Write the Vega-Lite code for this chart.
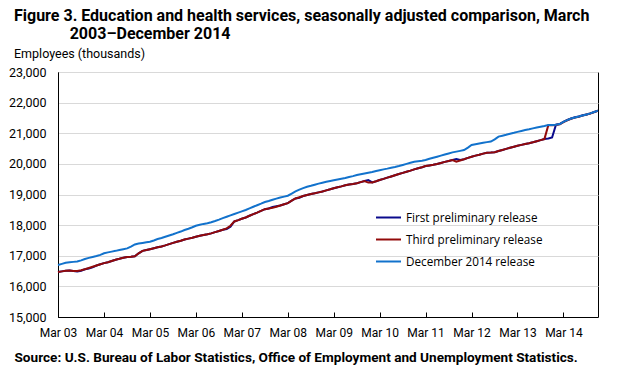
{
  "$schema": "https://vega.github.io/schema/vega-lite/v6.json",
  "width": 540,
  "height": 245,
  "autosize": {"type": "none"},
  "padding": {"left": 58, "top": 72, "right": 25, "bottom": 56},
  "background": "white",
  "title": {
    "text": ["Figure 3. Education and health services, seasonally adjusted comparison, March", "\u200b\u00a0\u00a0\u00a0\u00a0\u00a0\u00a0\u00a0\u00a0\u00a0\u00a0\u00a0\u00a0\u00a0\u00a02003\u2013December 2014"],
    "subtitle": "Employees (thousands)",
    "anchor": "start",
    "frame": "group",
    "dx": -44,
    "offset": 6,
    "font": "Roboto",
    "fontSize": 16,
    "fontWeight": "bold",
    "color": "#000000",
    "lineHeight": 18,
    "subtitleFont": "Roboto",
    "subtitleFontSize": 12.5,
    "subtitleColor": "#000000",
    "subtitlePadding": 6
  },
  "data": {
    "values": [
      {"date":"2003-03-01","first":16470,"third":16470,"dec2014":16700},
      {"date":"2003-04-01","first":16490,"third":16490,"dec2014":16735},
      {"date":"2003-05-01","first":16510,"third":16510,"dec2014":16770},
      {"date":"2003-06-01","first":16520,"third":16520,"dec2014":16790},
      {"date":"2003-07-01","first":16505,"third":16505,"dec2014":16800},
      {"date":"2003-08-01","first":16490,"third":16500,"dec2014":16810},
      {"date":"2003-09-01","first":16510,"third":16525,"dec2014":16850},
      {"date":"2003-10-01","first":16560,"third":16560,"dec2014":16895},
      {"date":"2003-11-01","first":16585,"third":16600,"dec2014":16930},
      {"date":"2003-12-01","first":16620,"third":16640,"dec2014":16960},
      {"date":"2004-01-01","first":16680,"third":16680,"dec2014":16990},
      {"date":"2004-02-01","first":16720,"third":16720,"dec2014":17030},
      {"date":"2004-03-01","first":16760,"third":16760,"dec2014":17080},
      {"date":"2004-04-01","first":16790,"third":16790,"dec2014":17110},
      {"date":"2004-05-01","first":16830,"third":16830,"dec2014":17135},
      {"date":"2004-06-01","first":16870,"third":16870,"dec2014":17160},
      {"date":"2004-07-01","first":16900,"third":16900,"dec2014":17190},
      {"date":"2004-08-01","first":16935,"third":16935,"dec2014":17215},
      {"date":"2004-09-01","first":16960,"third":16960,"dec2014":17240},
      {"date":"2004-10-01","first":16965,"third":16965,"dec2014":17300},
      {"date":"2004-11-01","first":16980,"third":16980,"dec2014":17370},
      {"date":"2004-12-01","first":17080,"third":17080,"dec2014":17400},
      {"date":"2005-01-01","first":17160,"third":17160,"dec2014":17420},
      {"date":"2005-02-01","first":17190,"third":17190,"dec2014":17440},
      {"date":"2005-03-01","first":17215,"third":17215,"dec2014":17460},
      {"date":"2005-04-01","first":17245,"third":17245,"dec2014":17500},
      {"date":"2005-05-01","first":17275,"third":17275,"dec2014":17545},
      {"date":"2005-06-01","first":17305,"third":17305,"dec2014":17580},
      {"date":"2005-07-01","first":17340,"third":17340,"dec2014":17620},
      {"date":"2005-08-01","first":17380,"third":17380,"dec2014":17660},
      {"date":"2005-09-01","first":17420,"third":17420,"dec2014":17700},
      {"date":"2005-10-01","first":17455,"third":17455,"dec2014":17745},
      {"date":"2005-11-01","first":17490,"third":17490,"dec2014":17790},
      {"date":"2005-12-01","first":17530,"third":17530,"dec2014":17840},
      {"date":"2006-01-01","first":17560,"third":17560,"dec2014":17880},
      {"date":"2006-02-01","first":17590,"third":17590,"dec2014":17930},
      {"date":"2006-03-01","first":17620,"third":17620,"dec2014":17980},
      {"date":"2006-04-01","first":17650,"third":17650,"dec2014":18010},
      {"date":"2006-05-01","first":17675,"third":17675,"dec2014":18040},
      {"date":"2006-06-01","first":17700,"third":17700,"dec2014":18060},
      {"date":"2006-07-01","first":17730,"third":17730,"dec2014":18095},
      {"date":"2006-08-01","first":17770,"third":17770,"dec2014":18135},
      {"date":"2006-09-01","first":17810,"third":17810,"dec2014":18180},
      {"date":"2006-10-01","first":17850,"third":17850,"dec2014":18230},
      {"date":"2006-11-01","first":17875,"third":17895,"dec2014":18275},
      {"date":"2006-12-01","first":17950,"third":17980,"dec2014":18320},
      {"date":"2007-01-01","first":18120,"third":18120,"dec2014":18365},
      {"date":"2007-02-01","first":18165,"third":18165,"dec2014":18410},
      {"date":"2007-03-01","first":18210,"third":18210,"dec2014":18450},
      {"date":"2007-04-01","first":18250,"third":18250,"dec2014":18495},
      {"date":"2007-05-01","first":18305,"third":18305,"dec2014":18545},
      {"date":"2007-06-01","first":18360,"third":18360,"dec2014":18600},
      {"date":"2007-07-01","first":18410,"third":18410,"dec2014":18650},
      {"date":"2007-08-01","first":18465,"third":18465,"dec2014":18700},
      {"date":"2007-09-01","first":18520,"third":18520,"dec2014":18755},
      {"date":"2007-10-01","first":18545,"third":18545,"dec2014":18790},
      {"date":"2007-11-01","first":18590,"third":18570,"dec2014":18830},
      {"date":"2007-12-01","first":18615,"third":18600,"dec2014":18865},
      {"date":"2008-01-01","first":18640,"third":18640,"dec2014":18900},
      {"date":"2008-02-01","first":18680,"third":18680,"dec2014":18930},
      {"date":"2008-03-01","first":18720,"third":18720,"dec2014":18960},
      {"date":"2008-04-01","first":18800,"third":18800,"dec2014":19030},
      {"date":"2008-05-01","first":18870,"third":18870,"dec2014":19100},
      {"date":"2008-06-01","first":18895,"third":18910,"dec2014":19160},
      {"date":"2008-07-01","first":18950,"third":18950,"dec2014":19210},
      {"date":"2008-08-01","first":18985,"third":18985,"dec2014":19255},
      {"date":"2008-09-01","first":19015,"third":19015,"dec2014":19285},
      {"date":"2008-10-01","first":19040,"third":19040,"dec2014":19320},
      {"date":"2008-11-01","first":19070,"third":19070,"dec2014":19355},
      {"date":"2008-12-01","first":19100,"third":19100,"dec2014":19385},
      {"date":"2009-01-01","first":19135,"third":19135,"dec2014":19415},
      {"date":"2009-02-01","first":19170,"third":19170,"dec2014":19440},
      {"date":"2009-03-01","first":19205,"third":19205,"dec2014":19465},
      {"date":"2009-04-01","first":19235,"third":19235,"dec2014":19490},
      {"date":"2009-05-01","first":19265,"third":19265,"dec2014":19515},
      {"date":"2009-06-01","first":19300,"third":19300,"dec2014":19540},
      {"date":"2009-07-01","first":19325,"third":19325,"dec2014":19570},
      {"date":"2009-08-01","first":19345,"third":19345,"dec2014":19600},
      {"date":"2009-09-01","first":19370,"third":19370,"dec2014":19635},
      {"date":"2009-10-01","first":19405,"third":19405,"dec2014":19660},
      {"date":"2009-11-01","first":19440,"third":19440,"dec2014":19685},
      {"date":"2009-12-01","first":19470,"third":19390,"dec2014":19710},
      {"date":"2010-01-01","first":19395,"third":19395,"dec2014":19735},
      {"date":"2010-02-01","first":19435,"third":19435,"dec2014":19765},
      {"date":"2010-03-01","first":19475,"third":19475,"dec2014":19790},
      {"date":"2010-04-01","first":19510,"third":19510,"dec2014":19820},
      {"date":"2010-05-01","first":19550,"third":19550,"dec2014":19845},
      {"date":"2010-06-01","first":19590,"third":19590,"dec2014":19875},
      {"date":"2010-07-01","first":19630,"third":19630,"dec2014":19900},
      {"date":"2010-08-01","first":19670,"third":19670,"dec2014":19930},
      {"date":"2010-09-01","first":19705,"third":19705,"dec2014":19965},
      {"date":"2010-10-01","first":19745,"third":19745,"dec2014":20000},
      {"date":"2010-11-01","first":19780,"third":19780,"dec2014":20035},
      {"date":"2010-12-01","first":19820,"third":19820,"dec2014":20070},
      {"date":"2011-01-01","first":19855,"third":19855,"dec2014":20085},
      {"date":"2011-02-01","first":19890,"third":19890,"dec2014":20100},
      {"date":"2011-03-01","first":19930,"third":19930,"dec2014":20125},
      {"date":"2011-04-01","first":19950,"third":19950,"dec2014":20165},
      {"date":"2011-05-01","first":19970,"third":19970,"dec2014":20200},
      {"date":"2011-06-01","first":19995,"third":19995,"dec2014":20235},
      {"date":"2011-07-01","first":20030,"third":20030,"dec2014":20270},
      {"date":"2011-08-01","first":20065,"third":20065,"dec2014":20305},
      {"date":"2011-09-01","first":20095,"third":20095,"dec2014":20340},
      {"date":"2011-10-01","first":20125,"third":20125,"dec2014":20375},
      {"date":"2011-11-01","first":20160,"third":20070,"dec2014":20400},
      {"date":"2011-12-01","first":20130,"third":20110,"dec2014":20425},
      {"date":"2012-01-01","first":20150,"third":20150,"dec2014":20450},
      {"date":"2012-02-01","first":20195,"third":20195,"dec2014":20530},
      {"date":"2012-03-01","first":20235,"third":20235,"dec2014":20615},
      {"date":"2012-04-01","first":20270,"third":20270,"dec2014":20640},
      {"date":"2012-05-01","first":20300,"third":20300,"dec2014":20665},
      {"date":"2012-06-01","first":20335,"third":20335,"dec2014":20690},
      {"date":"2012-07-01","first":20365,"third":20365,"dec2014":20710},
      {"date":"2012-08-01","first":20370,"third":20370,"dec2014":20730},
      {"date":"2012-09-01","first":20380,"third":20380,"dec2014":20800},
      {"date":"2012-10-01","first":20420,"third":20420,"dec2014":20890},
      {"date":"2012-11-01","first":20455,"third":20455,"dec2014":20920},
      {"date":"2012-12-01","first":20490,"third":20490,"dec2014":20950},
      {"date":"2013-01-01","first":20525,"third":20525,"dec2014":20985},
      {"date":"2013-02-01","first":20560,"third":20560,"dec2014":21015},
      {"date":"2013-03-01","first":20590,"third":20590,"dec2014":21045},
      {"date":"2013-04-01","first":20620,"third":20620,"dec2014":21075},
      {"date":"2013-05-01","first":20650,"third":20650,"dec2014":21105},
      {"date":"2013-06-01","first":20675,"third":20675,"dec2014":21130},
      {"date":"2013-07-01","first":20705,"third":20705,"dec2014":21160},
      {"date":"2013-08-01","first":20740,"third":20740,"dec2014":21190},
      {"date":"2013-09-01","first":20775,"third":20775,"dec2014":21215},
      {"date":"2013-10-01","first":20810,"third":20810,"dec2014":21240},
      {"date":"2013-11-01","first":20830,"third":21260,"dec2014":21270},
      {"date":"2013-12-01","first":20860,"third":21265,"dec2014":21270},
      {"date":"2014-01-01","first":21280,"third":21270,"dec2014":21275},
      {"date":"2014-02-01","first":21305,"third":21295,"dec2014":21300},
      {"date":"2014-03-01","first":21370,"third":21365,"dec2014":21370},
      {"date":"2014-04-01","first":21435,"third":21425,"dec2014":21430},
      {"date":"2014-05-01","first":21480,"third":21475,"dec2014":21480},
      {"date":"2014-06-01","first":21520,"third":21510,"dec2014":21515},
      {"date":"2014-07-01","first":21545,"third":21540,"dec2014":21545},
      {"date":"2014-08-01","first":21585,"third":21575,"dec2014":21580},
      {"date":"2014-09-01","first":21615,"third":21610,"dec2014":21615},
      {"date":"2014-10-01","first":21650,"third":21645,"dec2014":21650},
      {"date":"2014-11-01","first":21695,"third":21690,"dec2014":21695},
      {"date":"2014-12-01","first":21740,"third":21735,"dec2014":21740}
    ]
  },
  "transform": [
    {"fold": ["first", "third", "dec2014"], "as": ["series", "value"]}
  ],
  "mark": {"type": "line", "strokeWidth": 2, "interpolate": "linear"},
  "encoding": {
    "x": {
      "field": "date",
      "type": "temporal",
      "scale": {
        "type": "utc",
        "domain": [
          {"year": 2003, "month": 3, "date": 1, "utc": true},
          {"year": 2014, "month": 12, "date": 1, "utc": true}
        ]
      },
      "axis": {
        "values": [
          {"year": 2003, "month": 3, "date": 1, "utc": true},
          {"year": 2004, "month": 3, "date": 1, "utc": true},
          {"year": 2005, "month": 3, "date": 1, "utc": true},
          {"year": 2006, "month": 3, "date": 1, "utc": true},
          {"year": 2007, "month": 3, "date": 1, "utc": true},
          {"year": 2008, "month": 3, "date": 1, "utc": true},
          {"year": 2009, "month": 3, "date": 1, "utc": true},
          {"year": 2010, "month": 3, "date": 1, "utc": true},
          {"year": 2011, "month": 3, "date": 1, "utc": true},
          {"year": 2012, "month": 3, "date": 1, "utc": true},
          {"year": 2013, "month": 3, "date": 1, "utc": true},
          {"year": 2014, "month": 3, "date": 1, "utc": true}
        ],
        "labelExpr": "utcFormat(datum.value, '%b %y')",
        "grid": false,
        "domainColor": "#000000",
        "tickColor": "#000000",
        "tickSize": -5,
        "labelPadding": 15,
        "labelFont": "Roboto",
        "labelFontSize": 12,
        "labelColor": "#000000",
        "labelFlush": false,
        "labelOverlap": false,
        "title": "Source: U.S. Bureau of Labor Statistics, Office of Employment and Unemployment Statistics.",
        "titleFont": "Roboto",
        "titleFontSize": 13.6,
        "titleFontWeight": "bold",
        "titleColor": "#000000",
        "titleAnchor": "start",
        "titleAlign": "left",
        "titleBaseline": "alphabetic",
        "titleX": -44,
        "titleY": 44
      }
    },
    "y": {
      "field": "value",
      "type": "quantitative",
      "scale": {"domain": [15000, 23000], "nice": false, "zero": false},
      "axis": {
        "values": [15000, 16000, 17000, 18000, 19000, 20000, 21000, 22000, 23000],
        "format": ",d",
        "grid": true,
        "gridColor": "#d9d9d9",
        "gridWidth": 1,
        "ticks": false,
        "domainColor": "#000000",
        "labelPadding": 12,
        "labelFont": "Roboto",
        "labelFontSize": 12.5,
        "labelColor": "#000000",
        "title": null
      }
    },
    "color": {
      "field": "series",
      "type": "nominal",
      "scale": {
        "domain": ["first", "third", "dec2014"],
        "range": ["#0a0a8c", "#920a0a", "#1272cc"]
      },
      "legend": {
        "orient": "none",
        "legendX": 317,
        "legendY": 132,
        "title": null,
        "symbolType": "stroke",
        "symbolStrokeWidth": 2,
        "symbolSize": 625,
        "labelExpr": "datum.value == 'first' ? 'First preliminary release' : datum.value == 'third' ? 'Third preliminary release' : 'December 2014 release'",
        "labelFont": "Open Sans",
        "labelFontSize": 11.7,
        "labelColor": "#000000",
        "labelOffset": 4,
        "rowPadding": 1
      }
    }
  },
  "config": {
    "view": {"stroke": "#000000", "strokeWidth": 1}
  }
}
